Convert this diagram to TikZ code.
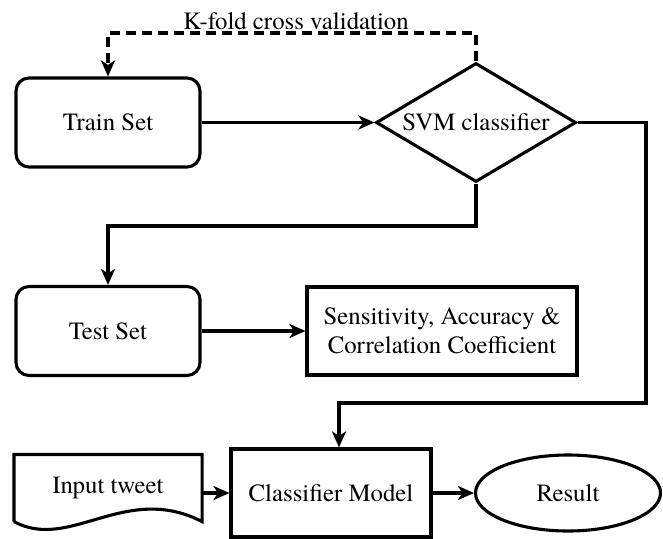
\documentclass[tikz,border=0pt]{standalone}
\usepackage{fontspec}
\setmainfont{texgyretermes-regular.otf}
\newfontfamily\tnr{texgyretermes-regular.otf}
\usetikzlibrary{arrows.meta,shapes.geometric}
\begin{document}
\begin{tikzpicture}[x=1pt,y=-1pt, line width=3.1pt,
  every node/.style={font=\tnr\fontsize{24.8}{29}\selectfont, inner sep=0pt},
  arr/.style={-{Stealth[length=16pt,width=14pt,inset=4.5pt]}},
  rbox/.style={draw, rounded corners=13pt, minimum width=184pt, minimum height=89pt},
  sbox/.style={draw},
  dsh/.style={dash pattern=on 10pt off 6pt}]
\useasboundingbox (0,0) rectangle (663,538);
\node[rbox] (train) at (108,122.5) {Train Set};
\node[draw, diamond, minimum width=200pt, minimum height=119pt, shape aspect=1.68] (svm) at (476,122.5) {SVM classifier};
\node[rbox] (test) at (108,331) {Test Set};
\node[sbox, minimum width=270pt, minimum height=88pt, align=center] (sens) at (442,331) {Sensitivity, Accuracy \&\\Correlation Coefficient};
\node[minimum width=185pt, minimum height=64pt] (tweet) at (108,488) {Input tweet};
\draw (tweet.south west) -- (tweet.north west) -- (tweet.north east) -- (tweet.south east)
  .. controls (125,482) and (70,552) .. (tweet.south west);
\node[sbox, minimum width=200pt, minimum height=88pt] (cls) at (331,493) {Classifier Model};
\node[draw, ellipse, minimum width=185pt, minimum height=76pt] (res) at (568,493) {Result};
\node (kfold) at (296,21) {K-fold cross validation};
\coordinate (top1) at (476,33);
\coordinate (d1) at (476,226);
\coordinate (r1) at (646,122.5);
\coordinate (r2) at (646,403);
\draw[arr, dsh] (svm.north) -- (top1) -| (train.north);
\draw[arr] (train.east) -- (svm.west);
\draw[arr] (svm.south) -- (d1) -| (test.north);
\draw[arr] (test.east) -- (sens.west);
\draw[arr] (svm.east) -- (r1) -- (r2) -| ([xshift=8pt]cls.north);
\draw[arr] (tweet.east |- cls.west) -- (cls.west);
\draw[arr] (cls.east) -- (res.west);
\end{tikzpicture}
\end{document}
